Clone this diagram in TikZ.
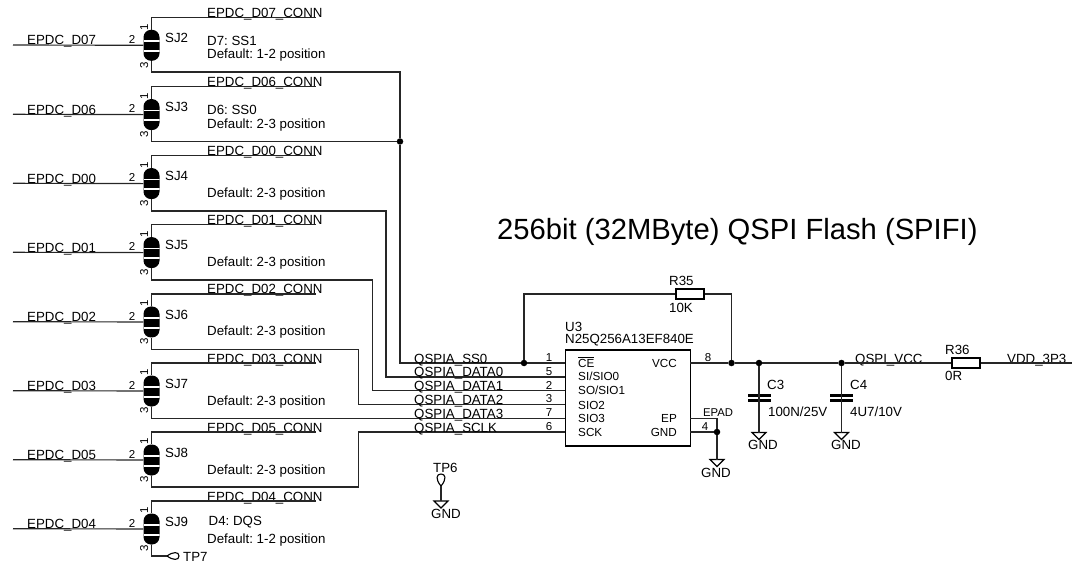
\documentclass[tikz,border=0pt]{standalone}
\usepackage{fontspec}
\setmainfont{Liberation Sans}
\frenchspacing
\tikzset{
    wire/.style={line width=1.15pt, black!85},
    net/.style={anchor=base west, inner sep=0pt, font=\fontsize{13.3}{14}\selectfont},
    pinname/.style={anchor=base west, inner sep=0pt, font=\fontsize{11.7}{12}\selectfont},
    pinright/.style={anchor=base east, inner sep=0pt, font=\fontsize{11.7}{12}\selectfont},
    pinnum/.style={anchor=base, inner sep=0pt, font=\fontsize{11.5}{12}\selectfont},
    pinside/.style={pinnum, rotate=90},
    dot/.style={circle, fill=black, inner sep=0pt, minimum size=6.5pt},
    jumper/.style={rectangle, fill=black, rounded corners=7.5pt, inner sep=0pt,
        minimum width=16pt, minimum height=31pt,
        path picture={
            \draw[white, line width=1.8pt] ([yshift=4pt]path picture bounding box.west) -- ([yshift=4pt]path picture bounding box.east);
            \draw[white, line width=2.2pt] ([yshift=-5.7pt]path picture bounding box.west) -- ([yshift=-5.7pt]path picture bounding box.east);
        }},
    resistor/.style={rectangle, draw=black, line width=1.2pt, fill=white, inner sep=0pt, minimum width=28pt, minimum height=10pt},
    capbar/.style={rectangle, fill=black, inner sep=0pt, minimum width=23pt, minimum height=3.6pt},
    chip/.style={rectangle, draw=black, line width=1.2pt, inner sep=0pt, minimum width=125pt, minimum height=96pt},
    gndmark/.pic={\draw[line width=1.1pt] (-7,0) -- (7,0) -- (0,7) -- cycle;}
}
\begin{document}
\begin{tikzpicture}[x=1pt, y=-1pt]
    \useasboundingbox (0,0) rectangle (1072,564);

    % title
    \node[net, font=\fontsize{29.2}{30}\selectfont] (title) at (497,240) {256bit (32MByte) QSPI Flash (SPIFI)};

    % flash
    \node[chip] (u3) at (627.7,398) {};
    \node[net] (u3ref) at (565,331) {U3};
    \node[net] (u3val) at (565,344) {N25Q256A13EF840E};
    \node[pinname] (ce) at (578,367) {$\overline{\mbox{CE}}$};
    \node[pinname] (sio0) at (578,381) {SI/SIO0};
    \node[pinname] (sio1) at (578,395) {SO/SIO1};
    \node[pinname] (sio2) at (578,409) {SIO2};
    \node[pinname] (sio3) at (578,422) {SIO3};
    \node[pinname] (sck) at (578,436) {SCK};
    \node[pinright] (vcc) at (677,367) {VCC};
    \node[pinright] (ep) at (677,422) {EP};
    \node[pinright] (gnd) at (677,436) {GND};

    \coordinate (pce) at (565.3,363);
    \coordinate (pdata0) at (565.3,377);
    \coordinate (pdata1) at (565.3,390.7);
    \coordinate (pdata2) at (565.3,404.3);
    \coordinate (pdata3) at (565.3,418.3);
    \coordinate (psclk) at (565.3,432);
    \coordinate (pvcc) at (690,363);
    \coordinate (pep) at (690,418.3);
    \coordinate (pgnd) at (690,432);

    \node[pinnum] (n1) at (549,361) {1};
    \node[pinnum] (n5) at (549,375) {5};
    \node[pinnum] (n2) at (549,389) {2};
    \node[pinnum] (n3) at (549,402) {3};
    \node[pinnum] (n7) at (549,416) {7};
    \node[pinnum] (n6) at (549,430) {6};
    \node[pinnum] (n8) at (708,361) {8};
    \node[pinnum] (n4) at (705,430) {4};
    \node[pinname, font=\fontsize{11.3}{12}\selectfont] (epad) at (703,416) {EPAD};

    % jumpers
    \node[jumper] (sj2) at (151.5,45.3) {};
    \node[jumper] (sj3) at (151.5,114.6) {};
    \node[jumper] (sj4) at (151.5,183.6) {};
    \node[jumper] (sj5) at (151.5,252.6) {};
    \node[jumper] (sj6) at (151.5,322) {};
    \node[jumper] (sj7) at (151.5,391) {};
    \node[jumper] (sj8) at (151.5,460) {};
    \node[jumper] (sj9) at (151.5,529) {};

    \coordinate (d07) at (13,45);
    \coordinate (d06) at (13,114.3);
    \coordinate (d00) at (13,183.3);
    \coordinate (d01) at (13,252.3);
    \coordinate (d02) at (13,321.7);
    \coordinate (d03) at (13,390.7);
    \coordinate (d05) at (13,459.7);
    \coordinate (d04) at (13,528.7);

    \node[net] (d07text) at (27,45) {EPDC\_D07};
    \node[net] (d06text) at (27,114.3) {EPDC\_D06};
    \node[net] (d00text) at (27,183.3) {EPDC\_D00};
    \node[net] (d01text) at (27,252.3) {EPDC\_D01};
    \node[net] (d02text) at (27,321.7) {EPDC\_D02};
    \node[net] (d03text) at (27,390.7) {EPDC\_D03};
    \node[net] (d05text) at (27,459.7) {EPDC\_D05};
    \node[net] (d04text) at (27,528.7) {EPDC\_D04};

    \node[net] (sj2text) at (165,42.5) {SJ2};
    \node[net] (sj3text) at (165,111.8) {SJ3};
    \node[net] (sj4text) at (165,180.8) {SJ4};
    \node[net] (sj5text) at (165,249.8) {SJ5};
    \node[net] (sj6text) at (165,319.2) {SJ6};
    \node[net] (sj7text) at (165,388.2) {SJ7};
    \node[net] (sj8text) at (165,457.2) {SJ8};
    \node[net] (sj9text) at (165,526.2) {SJ9};

    \node[pinnum] (sj2b) at (132,43.5) {2};
    \node[pinnum] (sj3b) at (132,112.8) {2};
    \node[pinnum] (sj4b) at (132,181.8) {2};
    \node[pinnum] (sj5b) at (132,250.8) {2};
    \node[pinnum] (sj6b) at (132,320.2) {2};
    \node[pinnum] (sj7b) at (132,389.2) {2};
    \node[pinnum] (sj8b) at (132,458.2) {2};
    \node[pinnum] (sj9b) at (132,527.2) {2};

    \node[pinside] (sj2a) at (148,27) {1};
    \node[pinside] (sj3a) at (148,96.3) {1};
    \node[pinside] (sj4a) at (148,165.3) {1};
    \node[pinside] (sj5a) at (148,234.3) {1};
    \node[pinside] (sj6a) at (148,303.7) {1};
    \node[pinside] (sj7a) at (148,372.7) {1};
    \node[pinside] (sj8a) at (148,441.7) {1};
    \node[pinside] (sj9a) at (148,510.7) {1};

    \node[pinside] (sj2c) at (148,65) {3};
    \node[pinside] (sj3c) at (148,134.3) {3};
    \node[pinside] (sj4c) at (148,203.3) {3};
    \node[pinside] (sj5c) at (148,272.3) {3};
    \node[pinside] (sj6c) at (148,341.7) {3};
    \node[pinside] (sj7c) at (148,410.7) {3};
    \node[pinside] (sj8c) at (148,479.7) {3};
    \node[pinside] (sj9c) at (148,548.7) {3};

    \node[net] (conn07) at (207,17.5) {EPDC\_D07\_CONN};
    \node[net] (conn06) at (207,86.5) {EPDC\_D06\_CONN};
    \node[net] (conn00) at (207,155.7) {EPDC\_D00\_CONN};
    \node[net] (conn01) at (207,224.7) {EPDC\_D01\_CONN};
    \node[net] (conn02) at (207,294) {EPDC\_D02\_CONN};
    \node[net] (conn03) at (207,363) {EPDC\_D03\_CONN};
    \node[net] (conn05) at (207,432) {EPDC\_D05\_CONN};
    \node[net] (conn04) at (207,501) {EPDC\_D04\_CONN};

    \node[net] (note07) at (207,45.5) {D7: SS1};
    \node[net] (note06) at (207,114.8) {D6: SS0};
    \node[net] (note04) at (208.5,525.5) {D4: DQS};
    \node[net] (def07) at (207,59) {Default: 1-2 position};
    \node[net] (def06) at (207,128.3) {Default: 2-3 position};
    \node[net] (def00) at (207,197.3) {Default: 2-3 position};
    \node[net] (def01) at (207,266.3) {Default: 2-3 position};
    \node[net] (def02) at (207,335.7) {Default: 2-3 position};
    \node[net] (def03) at (207,405) {Default: 2-3 position};
    \node[net] (def05) at (207,474) {Default: 2-3 position};
    \node[net] (def04) at (207,543) {Default: 1-2 position};

    \coordinate (end07) at (316,17.5);
    \coordinate (end06) at (316,86.5);
    \coordinate (end00) at (316,155.7);
    \coordinate (end01) at (316,224.7);
    \coordinate (end02) at (316,294);
    \coordinate (end03) at (316,363);
    \coordinate (end05) at (316,432);
    \coordinate (end04) at (316,501);

    \draw[wire] (d07) -- (sj2);
    \draw[wire] (d06) -- (sj3);
    \draw[wire] (d00) -- (sj4);
    \draw[wire] (d01) -- (sj5);
    \draw[wire] (d02) -- (sj6);
    \draw[wire] (d03) -- (sj7);
    \draw[wire] (d05) -- (sj8);
    \draw[wire] (d04) -- (sj9);

    \draw[wire] (sj2.north) |- (end07);
    \draw[wire] (sj3.north) |- (end06);
    \draw[wire] (sj4.north) |- (end00);
    \draw[wire] (sj5.north) |- (end01);
    \draw[wire] (sj6.north) |- (end02);
    \draw[wire] (sj7.north) |- (end03);
    \draw[wire] (sj8.north) |- (end05);
    \draw[wire] (sj9.north) |- (end04);

    % nets to the flash
    \node[dot] (ssjoin) at (400,141.5) {};
    \node[dot] (cejoin) at (524,363) {};
    \coordinate (out2) at (400,72);
    \coordinate (out4) at (386,211);
    \coordinate (out5) at (372.3,280);
    \coordinate (out6) at (358.7,349.3);
    \coordinate (out8) at (358.7,487);

    \draw[wire] (sj2.south) |- (out2) -- (ssjoin) |- (cejoin) -- (pce);
    \draw[wire] (sj3.south) |- (ssjoin);
    \draw[wire] (sj4.south) |- (out4) |- (pdata0);
    \draw[wire] (sj5.south) |- (out5) |- (pdata1);
    \draw[wire] (sj6.south) |- (out6) |- (pdata2);
    \draw[wire] (sj7.south) |- (pdata3);
    \draw[wire] (sj8.south) |- (out8) |- (psclk);

    \node[net] (ss0) at (414,363) {QSPIA\_SS0};
    \node[net] (data0) at (414,377) {QSPIA\_DATA0};
    \node[net] (data1) at (414,390.7) {QSPIA\_DATA1};
    \node[net] (data2) at (414,404.3) {QSPIA\_DATA2};
    \node[net] (data3) at (414,418.3) {QSPIA\_DATA3};
    \node[net] (sclk) at (414,432) {QSPIA\_SCLK};

    % supply
    \node[dot] (vccjoin) at (731.5,363) {};
    \node[dot] (c3join) at (759,363) {};
    \node[dot] (c4join) at (841.5,363) {};
    \node[dot] (epjoin) at (717,432) {};
    \node[resistor] (r35) at (690,294) {};
    \node[resistor] (r36) at (966,363) {};
    \coordinate (vddend) at (1072,363);

    \node[net] (r35ref) at (669,286) {R35};
    \node[net] (r35val) at (669,313) {10K};
    \node[net] (r36ref) at (945,355) {R36};
    \node[net] (r36val) at (945,381) {0R};
    \node[net] (qspivcc) at (855,363) {QSPI\_VCC};
    \node[net] (vdd) at (1007,363) {VDD\_3P3};

    \draw[wire] (cejoin) |- (r35);
    \draw[wire] (r35) -| (vccjoin);
    \draw[wire] (pvcc) -- (vccjoin) -- (c3join) -- (c4join) -- (r36) -- (vddend);
    \draw[wire] (pep) -| (epjoin);
    \draw[wire] (pgnd) -- (epjoin);

    % capacitors
    \node[capbar] (c3top) at (759,395.3) {};
    \node[capbar] (c3bot) at (759,400.3) {};
    \node[capbar] (c4top) at (841.5,395.3) {};
    \node[capbar] (c4bot) at (841.5,400.3) {};
    \node[net] (c3ref) at (767,389) {C3};
    \node[net] (c3val) at (768,416.5) {100N/25V};
    \node[net] (c4ref) at (850,389) {C4};
    \node[net] (c4val) at (850,416.5) {4U7/10V};

    % grounds
    \coordinate (g3) at (759,432.5);
    \coordinate (g4) at (841.5,432.5);
    \coordinate (gu3) at (717,459.5);
    \coordinate (gtp) at (441,501);
    \pic at (g3) {gndmark};
    \pic at (g4) {gndmark};
    \pic at (gu3) {gndmark};
    \pic at (gtp) {gndmark};
    \draw[wire] (c3join) -- (g3);
    \draw[wire] (c4join) -- (g4);
    \draw[wire] (epjoin) -- (gu3);
    \node[net, anchor=base] (g3text) at (763,449.5) {GND};
    \node[net, anchor=base] (g4text) at (846,449.5) {GND};
    \node[net, anchor=base] (gu3text) at (716,477) {GND};
    \node[net, anchor=base] (gtptext) at (446,518.5) {GND};

    % test points
    \coordinate (tp6) at (441,486);
    \coordinate (tp7) at (167,556);
    \draw[line width=1.1pt] (tp6) .. controls (435,479) and (436.5,474) .. (441,474) .. controls (445.5,474) and (447,479) .. (tp6);
    \draw[line width=1.1pt] (tp7) .. controls (173,551.5) and (179,551.5) .. (179,556) .. controls (179,560.5) and (173,560.5) .. (tp7);
    \draw[wire] (tp6) -- (gtp);
    \draw[wire] (sj9.south) |- (tp7);
    \node[net] (tp6text) at (433,472) {TP6};
    \node[net] (tp7text) at (183,561) {TP7};
\end{tikzpicture}
\end{document}
